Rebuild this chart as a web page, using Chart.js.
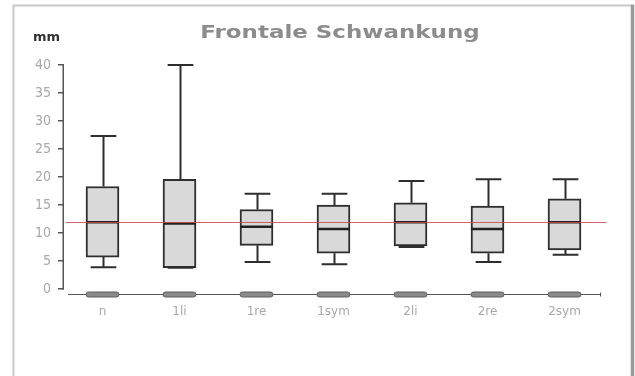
<!DOCTYPE html>
<html>
<head>
<meta charset="utf-8">
<script src="https://cdn.jsdelivr.net/npm/chart.js@4.4.1/dist/chart.umd.min.js"></script>
<style>
  html, body { margin: 0; padding: 0; background: #fff; }
  canvas { display: block; }
</style>
</head>
<body>
<canvas id="chart" width="635" height="376"></canvas>
<script>
// Frontal sway per measuring condition (mm): five-number summaries
const categories  = ['n', '1li', '1re', '1sym', '2li', '2re', '2sym'];
const whiskerLow  = [3.9, 3.8, 4.8, 4.4, 7.5, 4.8, 6.1];
const quartile1   = [5.7, 3.8, 7.8, 6.4, 7.7, 6.4, 7.0];
const medians     = [11.9, 11.7, 11.1, 10.7, 11.9, 10.7, 11.9];
const quartile3   = [18.3, 19.6, 14.2, 15.0, 15.4, 14.8, 16.1];
const whiskerHigh = [27.3, 40.0, 17.0, 17.0, 19.3, 19.6, 19.6];
const overallMean = 11.9;
const yTicks      = [0, 5, 10, 15, 20, 25, 30, 35, 40];

const chartTitle = 'Frontale Schwankung';
const unitLabel  = 'mm';

// Whiskers, medians, the mean line, axis lines and the frame are drawn here
const boxPlotDecor = {
  id: 'boxPlotDecor',
  beforeDraw(chart) {
    const { ctx, width, height } = chart;
    ctx.save();
    ctx.fillStyle = '#ffffff';
    ctx.fillRect(0, 0, width, height);
    // frame
    ctx.strokeStyle = '#c9c9c9';
    ctx.lineWidth = 2;
    ctx.beginPath();
    ctx.moveTo(13.5, height);
    ctx.lineTo(13.5, 5.5);
    ctx.lineTo(631, 5.5);
    ctx.stroke();
    ctx.strokeStyle = '#9a9a9a';
    ctx.lineWidth = 3.5;
    ctx.beginPath();
    ctx.moveTo(632.5, 4.5);
    ctx.lineTo(632.5, height);
    ctx.stroke();
    ctx.restore();
  },
  beforeDatasetsDraw(chart) {
    const { ctx } = chart;
    const y = chart.scales.y;
    const meta = chart.getDatasetMeta(0);
    ctx.save();
    ctx.strokeStyle = '#2e2e2e';
    ctx.lineWidth = 2;
    meta.data.forEach((bar, i) => {
      const cx = Math.round(bar.x) + 0.5;
      const capHalf = bar.width * 0.39;
      const yHi = y.getPixelForValue(whiskerHigh[i]);
      const yLo = y.getPixelForValue(whiskerLow[i]);
      ctx.beginPath();
      ctx.moveTo(cx, yHi);
      ctx.lineTo(cx, y.getPixelForValue(quartile3[i]));
      ctx.moveTo(cx, y.getPixelForValue(quartile1[i]));
      ctx.lineTo(cx, yLo);
      ctx.moveTo(cx - capHalf, yHi);
      ctx.lineTo(cx + capHalf, yHi);
      ctx.moveTo(cx - capHalf, yLo);
      ctx.lineTo(cx + capHalf, yLo);
      ctx.stroke();
    });
    ctx.restore();
  },
  afterDatasetsDraw(chart) {
    const { ctx, chartArea } = chart;
    const x = chart.scales.x;
    const y = chart.scales.y;
    const meta = chart.getDatasetMeta(0);
    ctx.save();

    // medians
    ctx.strokeStyle = '#222222';
    ctx.lineWidth = 2.5;
    meta.data.forEach((bar, i) => {
      const ym = y.getPixelForValue(medians[i]);
      ctx.beginPath();
      ctx.moveTo(bar.x - bar.width / 2, ym);
      ctx.lineTo(bar.x + bar.width / 2, ym);
      ctx.stroke();
    });

    // overall mean line
    const yMean = Math.round(y.getPixelForValue(overallMean)) + 0.5;
    ctx.strokeStyle = 'rgba(205, 70, 80, 0.85)';
    ctx.lineWidth = 1;
    ctx.beginPath();
    ctx.moveTo(chartArea.left + 2, yMean);
    ctx.lineTo(chartArea.right + 3, yMean);
    ctx.stroke();

    // y axis line (0 .. 40)
    ctx.strokeStyle = '#555555';
    ctx.lineWidth = 1.5;
    ctx.beginPath();
    ctx.moveTo(chartArea.left - 0.75, y.getPixelForValue(yTicks[0]) + 0.75);
    ctx.lineTo(chartArea.left - 0.75, y.getPixelForValue(yTicks[yTicks.length - 1]) - 0.75);
    ctx.stroke();

    // x axis line with category markers
    const yAxis = Math.round(chartArea.bottom) - 0.5;
    ctx.strokeStyle = '#555555';
    ctx.lineWidth = 1;
    ctx.beginPath();
    ctx.moveTo(chartArea.left + 4, yAxis);
    ctx.lineTo(chartArea.right - 2, yAxis);
    ctx.moveTo(chartArea.right - 2.5, yAxis - 2);
    ctx.lineTo(chartArea.right - 2.5, yAxis + 2);
    ctx.stroke();
    meta.data.forEach((bar, i) => {
      const cx = x.getPixelForValue(i);
      const w = bar.width;
      ctx.beginPath();
      ctx.roundRect(cx - w / 2, yAxis - 2.5, w, 5, 2.5);
      ctx.fillStyle = '#8a8a8a';
      ctx.fill();
      ctx.strokeStyle = '#5e5e5e';
      ctx.lineWidth = 1;
      ctx.stroke();
    });

    // title (wide bold face) and unit
    ctx.textBaseline = 'middle';
    ctx.textAlign = 'center';
    ctx.fillStyle = '#8c8c8c';
    ctx.font = 'bold 17px "DejaVu Sans", Verdana, sans-serif';
    ctx.save();
    ctx.translate(340, 34);
    ctx.scale(1.35, 1);
    ctx.fillText(chartTitle, 0, 0);
    ctx.restore();
    ctx.textAlign = 'left';
    ctx.fillStyle = '#333333';
    ctx.font = 'bold 13px "DejaVu Sans", sans-serif';
    ctx.fillText(unitLabel, 33, 38);
    ctx.restore();
  }
};

new Chart(document.getElementById('chart'), {
  type: 'bar',
  data: {
    labels: categories,
    datasets: [{
      label: 'Frontale Schwankung',
      data: categories.map((_, i) => [quartile1[i], quartile3[i]]),
      backgroundColor: '#d9d9d9',
      borderColor: '#2e2e2e',
      borderWidth: 2,
      borderSkipped: false,
      barThickness: 33
    }]
  },
  options: {
    responsive: false,
    animation: false,
    devicePixelRatio: 1,
    layout: { padding: { left: 14, right: 32, top: 65, bottom: 0 } },
    plugins: {
      legend: { display: false },
      title: { display: false },
      tooltip: { enabled: false }
    },
    scales: {
      x: {
        grid: { display: false, drawTicks: false },
        border: { display: false },
        ticks: {
          color: '#a8a8a8',
          padding: 10,
          font: { family: '"DejaVu Sans", Verdana, sans-serif', size: 12 }
        },
        afterFit(scale) { scale.height = 81.4; }
      },
      y: {
        min: -1,
        max: 40,
        afterBuildTicks(scale) { scale.ticks = yTicks.map(v => ({ value: v })); },
        grid: {
          drawOnChartArea: false,
          drawTicks: true,
          tickLength: 6,
          color: '#555555',
          lineWidth: 1.5
        },
        border: { display: false },
        ticks: {
          color: '#a8a8a8',
          padding: 7,
          font: { family: '"Liberation Sans Narrow", "DejaVu Sans Condensed", sans-serif', size: 14 }
        },
        afterFit(scale) { scale.width = 50; }
      }
    }
  },
  plugins: [boxPlotDecor]
});
</script>
</body>
</html>
